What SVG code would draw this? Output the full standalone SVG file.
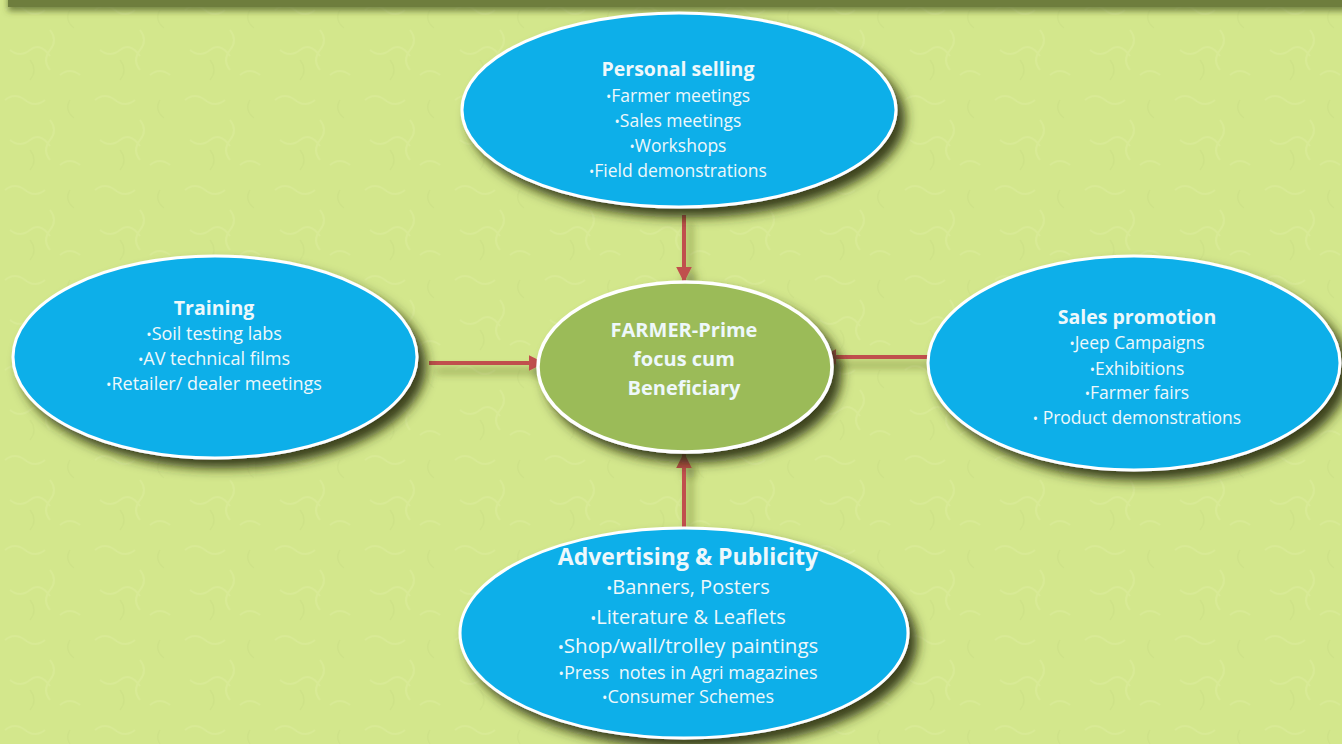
<svg xmlns="http://www.w3.org/2000/svg" width="1342" height="744" viewBox="0 0 1342 744">
  <defs>
    <filter id="shadow" x="-20%" y="-20%" width="150%" height="160%">
      <feDropShadow dx="8" dy="9" stdDeviation="6" flood-color="#262e0e" flood-opacity="0.9"/>
    </filter>
    <filter id="lshadow" x="-20%" y="-100%" width="140%" height="400%">
      <feDropShadow dx="6" dy="8" stdDeviation="4" flood-color="#3a4418" flood-opacity="0.55"/>
    </filter>
    <filter id="bandshadow" x="-5%" y="-50%" width="110%" height="400%">
      <feDropShadow dx="0" dy="4" stdDeviation="3" flood-color="#4d5a24" flood-opacity="0.7"/>
    </filter>
    <marker id="arrow" viewBox="0 0 10 10" refX="9" refY="5" markerWidth="4" markerHeight="4" orient="auto" markerUnits="strokeWidth">
      <path d="M0,0 L10,5 L0,10 z" fill="#c0504d"/>
    </marker>
    <pattern id="tex" width="90" height="90" patternUnits="userSpaceOnUse">
      <path d="M5,10 q10,-8 20,0 t20,0 M50,30 q8,10 0,20 t0,20 M10,50 q10,8 20,0 t20,6 M60,75 q10,-8 20,0" fill="none" stroke="#deee9f" stroke-width="2" opacity="0.45"/>
      <path d="M30,80 q8,-10 0,-20 M70,10 q-6,10 4,18" fill="none" stroke="#c6da80" stroke-width="1.5" opacity="0.35"/>
    </pattern>
    <style>
      .blue { fill: #10afe9; stroke: #ffffff; stroke-width: 3; }
      .green { fill: #9bbb59; stroke: #ffffff; stroke-width: 3.5; }
      .t { font-family: "Open Sans", "Liberation Sans", sans-serif; fill: #eef8fb; text-anchor: middle; }
      .h { font-weight: bold; }
      .b { font-size: 0.8em; }
      .conn { stroke: #c0504d; stroke-width: 4; fill: none; }
    </style>
  </defs>

  <rect x="0" y="0" width="1342" height="744" fill="#d3e78c"/>
  <rect x="0" y="0" width="1342" height="744" fill="url(#tex)"/>
  <rect x="8" y="-10" width="1340" height="17" fill="#6e7d3e" filter="url(#bandshadow)"/>

  <g id="connectors" filter="url(#lshadow)">
    <line class="conn" x1="684" y1="215" x2="684" y2="281" marker-end="url(#arrow)"/>
    <line class="conn" x1="429" y1="363" x2="543" y2="363" marker-end="url(#arrow)"/>
    <line class="conn" x1="928" y1="357" x2="822" y2="357" marker-end="url(#arrow)"/>
    <line class="conn" x1="684" y1="528" x2="684" y2="454" marker-end="url(#arrow)"/>
  </g>

  <g id="personal-selling">
    <ellipse class="blue" cx="679" cy="110" rx="217" ry="97" filter="url(#shadow)"/>
    <text class="t h" x="678" y="76" font-size="19.5">Personal selling</text>
    <text class="t" x="678" y="102" font-size="17.5"><tspan class="b">•</tspan>Farmer meetings</text>
    <text class="t" x="678" y="127" font-size="17.5"><tspan class="b">•</tspan>Sales meetings</text>
    <text class="t" x="678" y="152" font-size="17.5"><tspan class="b">•</tspan>Workshops</text>
    <text class="t" x="678" y="177" font-size="17.5"><tspan class="b">•</tspan>Field demonstrations</text>
  </g>

  <g id="training">
    <ellipse class="blue" cx="215" cy="357" rx="202" ry="101" filter="url(#shadow)"/>
    <text class="t h" x="214" y="315" font-size="19.5">Training</text>
    <text class="t" x="214" y="340" font-size="18"><tspan class="b">•</tspan>Soil testing labs</text>
    <text class="t" x="214" y="365" font-size="18"><tspan class="b">•</tspan>AV technical films</text>
    <text class="t" x="214" y="390" font-size="18"><tspan class="b">•</tspan>Retailer/ dealer meetings</text>
  </g>

  <g id="farmer">
    <ellipse class="green" cx="685" cy="367" rx="147" ry="85" filter="url(#shadow)"/>
    <text class="t h" x="684" y="337" font-size="20" fill="#f2f5e6">FARMER-Prime</text>
    <text class="t h" x="684" y="366" font-size="20" fill="#f2f5e6">focus cum</text>
    <text class="t h" x="684" y="395" font-size="20" fill="#f2f5e6">Beneficiary</text>
  </g>

  <g id="sales-promotion">
    <ellipse class="blue" cx="1134" cy="363" rx="206" ry="107" filter="url(#shadow)"/>
    <text class="t h" x="1137" y="324" font-size="19.5">Sales promotion</text>
    <text class="t" x="1137" y="349" font-size="17.5"><tspan class="b">•</tspan>Jeep Campaigns</text>
    <text class="t" x="1137" y="375" font-size="17.5"><tspan class="b">•</tspan>Exhibitions</text>
    <text class="t" x="1137" y="399" font-size="17.5"><tspan class="b">•</tspan>Farmer fairs</text>
    <text class="t" x="1137" y="424" font-size="17.5" xml:space="preserve"><tspan class="b">•</tspan> Product demonstrations</text>
  </g>

  <g id="advertising">
    <ellipse class="blue" cx="684" cy="633" rx="224" ry="105" filter="url(#shadow)"/>
    <text class="t h" x="688" y="565" font-size="23">Advertising &amp; Publicity</text>
    <text class="t" x="688" y="594" font-size="20"><tspan class="b">•</tspan>Banners, Posters</text>
    <text class="t" x="688" y="624" font-size="20"><tspan class="b">•</tspan>Literature &amp; Leaflets</text>
    <text class="t" x="688" y="653" font-size="20.5"><tspan class="b">•</tspan>Shop/wall/trolley paintings</text>
    <text class="t" x="688" y="679" font-size="18" xml:space="preserve"><tspan class="b">•</tspan>Press  notes in Agri magazines</text>
    <text class="t" x="688" y="703" font-size="18"><tspan class="b">•</tspan>Consumer Schemes</text>
  </g>
</svg>
